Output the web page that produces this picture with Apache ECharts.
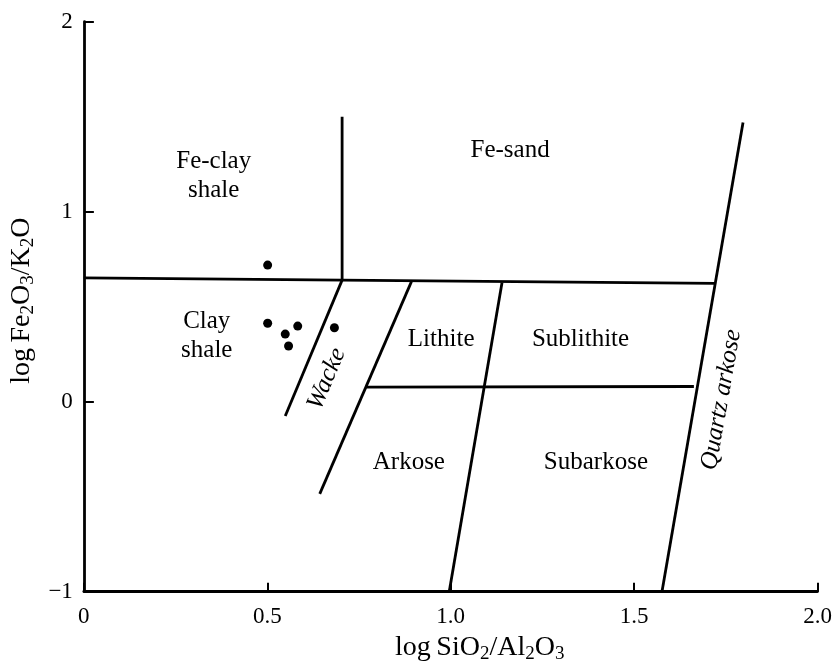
<!DOCTYPE html>
<html>
<head>
<meta charset="utf-8">
<script src="https://cdn.jsdelivr.net/npm/echarts@6/dist/echarts.min.js"></script>
<style>
  html, body { margin: 0; padding: 0; background: #fff; }
  #chart { width: 835px; height: 671px; }
</style>
</head>
<body>
<div id="chart"></div>
<script>
// Field boundaries of the log(SiO2/Al2O3) vs log(Fe2O3/K2O) classification
const feBoundary = [[0, 0.652], [0.704, 0.64], [1.72, 0.623]];
const feSandClayDivide = [[0.704, 1.5], [0.704, 0.64]];
const wackeLeft = [[0.704, 0.64], [0.549, -0.075]];
const arkoseLeft = [[0.893, 0.632], [0.643, -0.485]];
const lithiteBase = [[0.77, 0.077], [1.663, 0.08]];
const subLine = [[1.14, 0.627], [0.996, -1.0]];
const quartzLine = [[1.797, 1.47], [1.576, -1.0]];

// Samples
const samples = [
  [0.501, 0.719],
  [0.501, 0.413],
  [0.549, 0.356],
  [0.583, 0.398],
  [0.558, 0.293],
  [0.683, 0.389]
];

// Field names and their anchor positions
const fieldNames = ['Fe-clay\nshale', 'Fe-sand', 'Clay\nshale', 'Lithite', 'Sublithite', 'Arkose', 'Subarkose'];
const fieldPos = [[0.354, 1.19], [1.162, 1.32], [0.335, 0.345], [0.974, 0.33], [1.354, 0.33], [0.886, -0.32], [1.396, -0.32]];
const slantNames = ['Wacke', 'Quartz arkose'];
const slantPos = [[0.662, 0.12], [1.738, 0.01]];
const slantAngle = [67, 80];

const xTicks = ['0', '0.5', '1.0', '1.5', '2.0'];
const yTicks = ['\u22121', '0', '1', '2'];

const FONT = '"Liberation Serif", "DejaVu Serif", serif';
const lineStyle = { color: '#000', width: 2.8 };

function boundary(data) {
  return {
    type: 'line', data: data, symbol: 'none', silent: true,
    lineStyle: lineStyle, z: 3, animation: false
  };
}

function textLayer(names, pos, extra, rotations) {
  return {
    type: 'scatter', symbol: 'circle', symbolSize: 1, silent: true, z: 5,
    itemStyle: { color: 'rgba(0,0,0,0)', opacity: 1 },
    data: names.map(function (n, i) {
      const d = { name: n, value: pos[i] };
      if (rotations) d.label = { rotate: rotations[i] };
      return d;
    }),
    label: Object.assign({
      show: true, position: 'inside', formatter: '{b}',
      fontFamily: FONT, fontSize: 25, color: '#000', lineHeight: 29, align: 'center'
    }, extra)
  };
}

const subRich = {
  n: { fontFamily: FONT, fontSize: 28, color: '#000' },
  s: { fontFamily: FONT, fontSize: 19, color: '#000', padding: [12, 0, 0, 0] }
};

const chart = echarts.init(document.getElementById('chart'), null, { renderer: 'canvas' });

chart.setOption({
  animation: false,
  backgroundColor: '#fff',
  grid: { left: 83.5, right: 17.5, top: 21.7, bottom: 79.3 },
  xAxis: {
    type: 'value', min: 0, max: 2, interval: 0.5,
    axisLine: { onZero: false, lineStyle: { color: '#000', width: 2.8 } },
    axisTick: { inside: true, length: 9, lineStyle: { color: '#000', width: 2 } },
    axisLabel: {
      color: '#000', fontFamily: FONT, fontSize: 23, margin: 14,
      formatter: function (v) { return xTicks[Math.round(v / 0.5)]; }
    },
    splitLine: { show: false },
    name: '{n|log\u2009SiO}{s|2}{n|/Al}{s|2}{n|O}{s|3}',
    nameLocation: 'middle', nameGap: 25,
    nameTextStyle: { rich: subRich, padding: [0, 0, 0, 58] }
  },
  yAxis: {
    type: 'value', min: -1, max: 2, interval: 1,
    axisLine: { onZero: false, lineStyle: { color: '#000', width: 2.8 } },
    axisTick: { inside: true, length: 10, lineStyle: { color: '#000', width: 2 } },
    axisLabel: {
      color: '#000', fontFamily: FONT, fontSize: 23, margin: 11,
      formatter: function (v) { return yTicks[Math.round(v + 1)]; }
    },
    splitLine: { show: false },
    name: '{n|log\u2009Fe}{s|2}{n|O}{s|3}{n|/K}{s|2}{n|O}',
    nameLocation: 'middle', nameGap: 33, nameRotate: 90,
    nameTextStyle: { rich: subRich, padding: [0, 0, 0, 12] }
  },
  series: [
    boundary(feBoundary),
    boundary(feSandClayDivide),
    boundary(wackeLeft),
    boundary(arkoseLeft),
    boundary(lithiteBase),
    boundary(subLine),
    boundary(quartzLine),
    {
      type: 'scatter', data: samples, symbol: 'circle', symbolSize: 9,
      itemStyle: { color: '#000', opacity: 1 }, z: 4
    },
    textLayer(fieldNames, fieldPos, {}),
    textLayer(slantNames, slantPos, { fontStyle: 'italic' }, slantAngle)
  ]
});
</script>
</body>
</html>
